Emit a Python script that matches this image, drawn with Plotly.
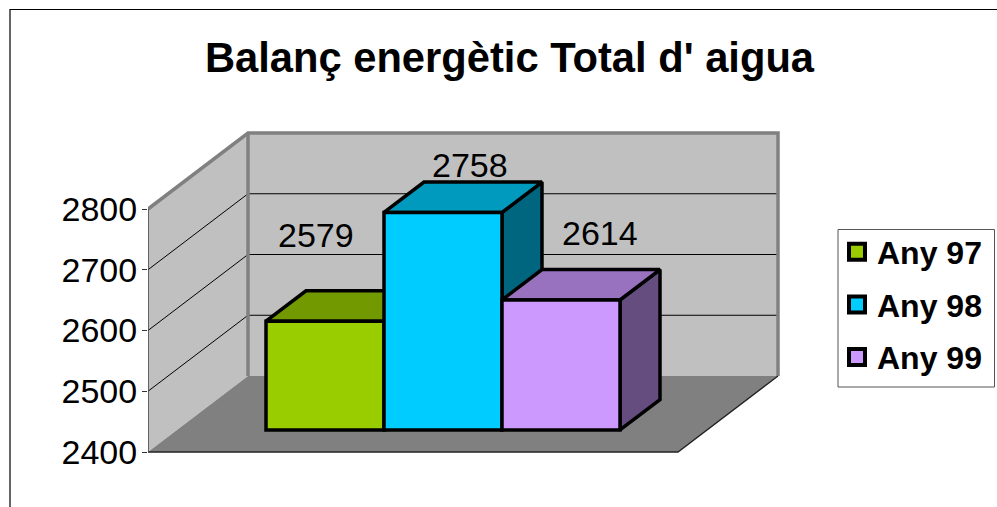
import plotly.graph_objects as go

categories = ["Any 97", "Any 98", "Any 99"]
values = [2579, 2758, 2614]
tick_values = [2400, 2500, 2600, 2700, 2800]
front_colors = ["#9ACD00", "#00CCFF", "#CC99FF"]
top_colors = ["#739900", "#009ABF", "#9972BF"]
side_colors = ["#4D6600", "#006680", "#664D80"]

W, H = 997, 507
PLOT_L, PLOT_R, PLOT_T, PLOT_B = 148, 800, 100, 470
PX_PER_CAT = 118.0
PX_PER_VAL = 0.6075
BAR0_PX = 325.0
Y0_PX = 452.0
BAR_PLANE = 0.29   # depth of the bars' front plane
BAR_DEPTH = 0.40
DEPTH_X = 100.0 / PX_PER_CAT
DEPTH_Y = 76.0 / PX_PER_VAL
X_L = (PLOT_L - BAR0_PX) / PX_PER_CAT
X_R = (PLOT_R - BAR0_PX) / PX_PER_CAT
FLOOR_L = X_L
FLOOR_R = (678 - BAR0_PX) / PX_PER_CAT
Y_LO = tick_values[0] - (PLOT_B - Y0_PX) / PX_PER_VAL
Y_HI = tick_values[0] + (Y0_PX - PLOT_T) / PX_PER_VAL
PLANE_Y = BAR_PLANE * DEPTH_Y
VMIN, VMAX = tick_values[0], tick_values[-1]


def proj(x, v, d):
    return x + d * DEPTH_X, v + d * DEPTH_Y


def poly(points, fill=None, line=None, width=1, yaxis="y", closed=True):
    xs = [p[0] for p in points]
    ys = [p[1] for p in points]
    if closed:
        xs.append(xs[0])
        ys.append(ys[0])
    return go.Scatter(
        x=xs, y=ys, mode="lines", yaxis=yaxis, hoverinfo="skip", showlegend=False,
        fill="toself" if fill else None, fillcolor=fill,
        line=dict(color=line or "rgba(0,0,0,0)", width=width, simplify=False),
    )


fig = go.Figure()

# walls and floor
fig.add_trace(poly([proj(FLOOR_L, VMIN, 0), proj(FLOOR_L, VMIN, 1), proj(FLOOR_L, VMAX, 1), proj(FLOOR_L, VMAX, 0)], "#C0C0C0"))
fig.add_trace(poly([proj(FLOOR_L, VMIN, 1), proj(FLOOR_R, VMIN, 1), proj(FLOOR_R, VMAX, 1), proj(FLOOR_L, VMAX, 1)], "#C0C0C0"))
fig.add_trace(poly([proj(FLOOR_L, VMIN, 0), proj(FLOOR_R, VMIN, 0), proj(FLOOR_R, VMIN, 1), proj(FLOOR_L, VMIN, 1)], "#808080"))

# gridlines
for t in tick_values[1:-1]:
    fig.add_trace(poly([proj(FLOOR_L, t, 0), proj(FLOOR_L, t, 1), proj(FLOOR_R, t, 1)], None, "#000000", 1, closed=False))

# wall edges
fig.add_trace(poly([proj(FLOOR_L, VMAX, 0), proj(FLOOR_L, VMAX, 1), proj(FLOOR_R, VMAX, 1), proj(FLOOR_R, VMIN, 1)], None, "#808080", 3.5, closed=False))
fig.add_trace(poly([proj(FLOOR_L, VMAX, 1), proj(FLOOR_L, VMIN, 1)], None, "#808080", 3.5, closed=False))
fig.add_trace(poly([proj(FLOOR_L, VMIN, 0), proj(FLOOR_R, VMIN, 0), proj(FLOOR_R, VMIN, 1)], None, "#222222", 1.3, closed=False))
fig.add_trace(poly([proj(FLOOR_L, VMIN, 0), proj(FLOOR_L, VMAX, 0)], None, "#444444", 1.5, closed=False))

# bar sides and tops, back to front; x is shared with the fronts
for i, v in enumerate(values):
    r = i + 0.5
    l = i - 0.5
    top = v + PLANE_Y
    base = VMIN + PLANE_Y
    fig.add_trace(poly([(r, base), (r + BAR_DEPTH * DEPTH_X, base + BAR_DEPTH * DEPTH_Y),
                        (r + BAR_DEPTH * DEPTH_X, top + BAR_DEPTH * DEPTH_Y), (r, top)],
                       side_colors[i], "#000000", 3.5))
    fig.add_trace(poly([(l, top), (l + BAR_DEPTH * DEPTH_X, top + BAR_DEPTH * DEPTH_Y),
                        (r + BAR_DEPTH * DEPTH_X, top + BAR_DEPTH * DEPTH_Y), (r, top)],
                       top_colors[i], "#000000", 3.5))

# bar fronts, true values on the overlaid axis
for i, v in enumerate(values):
    fig.add_trace(go.Bar(
        x=[i], y=[v - VMIN], base=[VMIN], width=[1], yaxis="y2", name=categories[i],
        marker=dict(color=front_colors[i], line=dict(color="#000000", width=3.5)),
        showlegend=False, hoverinfo="x+y",
    ))

# legend entries
for i, c in enumerate(categories):
    fig.add_trace(go.Scatter(
        x=[None], y=[None], mode="markers", name=c, legendgroup=c, yaxis="y",
        marker=dict(symbol="square", size=17, color=front_colors[i], line=dict(color="#000000", width=4)),
    ))

label_dx = [-9, 27, 39]
label_dy = [86, 47, 67]
annotations = [
    dict(x=i, y=v, xref="x", yref="y2", text=str(v), showarrow=False, xshift=label_dx[i], yshift=label_dy[i],
         font=dict(family="Liberation Sans", size=34, color="#000000"))
    for i, v in enumerate(values)
]

plot_w = PLOT_R - PLOT_L
plot_h = PLOT_B - PLOT_T
border_pts = [(10, H + 5), (10, 9.5), (W + 5, 9.5)]
px = lambda x: (x - PLOT_L) / plot_w
py = lambda y: (PLOT_B - y) / plot_h
border_path = "M" + " L".join(f"{px(a):.5f},{py(b):.5f}" for a, b in border_pts)

fig.update_layout(
    width=W, height=H, autosize=False,
    margin=dict(l=PLOT_L, r=W - PLOT_R, t=PLOT_T, b=H - PLOT_B, pad=0, autoexpand=False),
    paper_bgcolor="#FFFFFF", plot_bgcolor="rgba(0,0,0,0)",
    barmode="overlay",
    title=dict(text="<b>Balanç energètic Total d' aigua</b>", x=509.5 / W, xref="container", xanchor="center",
               y=1 - 57 / H, yref="container", yanchor="middle",
               font=dict(family="Liberation Sans", size=41.7, color="#000000")),
    xaxis=dict(visible=False, range=[X_L, X_R], fixedrange=True),
    yaxis=dict(range=[Y_LO, Y_HI], tickvals=tick_values, ticktext=[str(t) for t in tick_values],
               ticks="outside", ticklen=5, tickcolor="#333333", tickwidth=1.3, ticklabelstandoff=-2,
               showgrid=False, zeroline=False, showline=False, fixedrange=True,
               tickfont=dict(family="Liberation Sans", size=34, color="#000000")),
    yaxis2=dict(overlaying="y", range=[Y_LO - PLANE_Y, Y_HI - PLANE_Y], visible=False, fixedrange=True),
    legend=dict(xref="container", yref="container", x=837 / W, y=1 - 224.5 / H, xanchor="left", yanchor="top",
                borderwidth=0, bgcolor="rgba(0,0,0,0)", tracegroupgap=8,
                font=dict(family="Liberation Sans", size=32, color="#000000", weight="bold"),
                itemsizing="trace"),
    shapes=[
        dict(type="path", xref="paper", yref="paper", path=border_path, line=dict(color="#000000", width=1.2)),
        dict(type="rect", xref="paper", yref="paper", x0=px(838), x1=px(994.5), y0=py(387), y1=py(229.5),
             line=dict(color="#555555", width=1), fillcolor="#FFFFFF"),
    ],
    annotations=annotations,
)

fig.write_html("out.html", config={"displayModeBar": False},
               post_script="document.body.style.margin='0';")
